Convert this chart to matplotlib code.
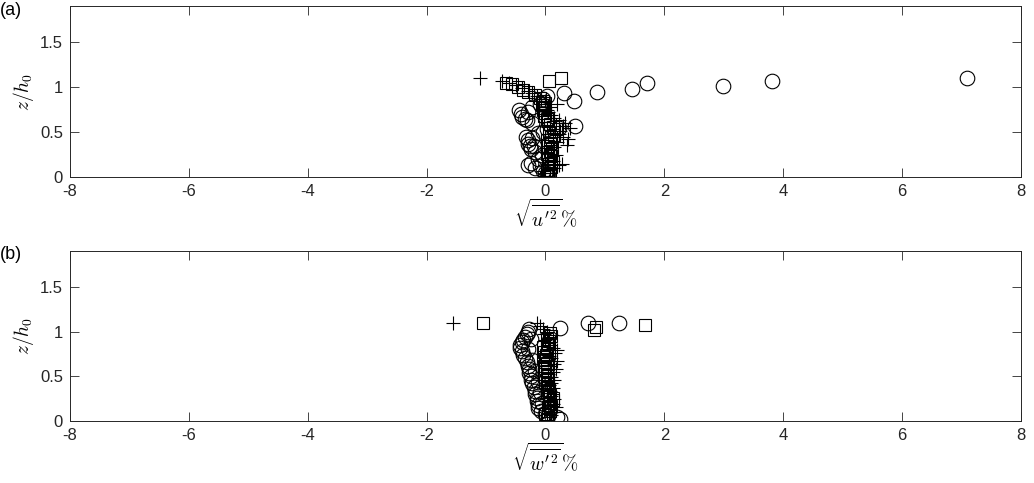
import numpy as np
import matplotlib
matplotlib.use("Agg")
import matplotlib.pyplot as plt

plt.rcParams['font.family'] = ['Liberation Sans', 'DejaVu Sans']
plt.rcParams['mathtext.fontset'] = 'cm'

# (a) streamwise fluctuation profiles: circles, squares, plus signs
circ_u_z = [0.02, 0.03, 0.05, 0.07, 0.10, 0.13, 0.16, 0.20, 0.24, 0.28, 0.31, 0.34,
            0.37, 0.41, 0.45, 0.49, 0.53, 0.55, 0.57, 0.60, 0.63, 0.67, 0.70, 0.74,
            0.78, 0.81, 0.84, 0.87, 0.90, 0.93, 0.95, 0.98, 1.01, 1.04, 1.07, 1.10,
            0.12, 0.35, 0.43, 0.65, 0.72, 0.50]
circ_u_x = [0.05, 0.02, 0.00, -0.05, -0.18, -0.29, -0.24, -0.12, -0.06, -0.18, -0.24, -0.26,
            -0.30, -0.29, -0.33, -0.12, 0.02, 0.22, 0.50, -0.22, -0.31, -0.40, -0.42, -0.45,
            -0.22, -0.10, 0.48, -0.05, 0.02, 0.31, 0.87, 1.46, 2.99, 1.71, 3.81, 7.10,
            -0.10, -0.20, -0.22, -0.35, -0.30, -0.05]

sq_u_z = [0.02, 0.05, 0.08, 0.11, 0.14, 0.17, 0.20, 0.23, 0.26, 0.29, 0.32, 0.35,
          0.38, 0.41, 0.44, 0.47, 0.50, 0.53, 0.56, 0.59, 0.62, 0.65, 0.68, 0.71,
          0.74, 0.77, 0.80, 0.82, 0.85, 0.88, 0.91, 0.94, 0.97, 1.00, 1.03, 1.05,
          1.07, 1.10]
sq_u_x = [0.05, 0.08, 0.03, 0.10, 0.06, 0.12, 0.04, 0.09, 0.02, 0.07, 0.11, 0.05,
          0.08, 0.03, 0.10, 0.14, 0.06, 0.18, 0.13, 0.08, 0.04, 0.02, -0.02, 0.00,
          -0.04, -0.02, -0.06, 0.00, -0.05, -0.10, -0.18, -0.29, -0.38, -0.46, -0.56, -0.66,
          0.06, 0.26]

plus_u_z = [0.01, 0.04, 0.07, 0.10, 0.13, 0.15, 0.18, 0.21, 0.24, 0.27, 0.30, 0.33,
            0.36, 0.39, 0.42, 0.45, 0.48, 0.51, 0.54, 0.57, 0.60, 0.63, 0.66, 0.69,
            0.72, 0.75, 0.78, 0.81, 0.84, 0.87, 0.90, 0.93, 0.96, 0.99, 1.02, 1.05,
            1.07, 1.10]
plus_u_x = [0.00, 0.08, -0.05, 0.15, 0.22, 0.28, 0.12, 0.05, 0.18, 0.02, 0.10, 0.15,
            0.36, 0.20, 0.38, 0.30, 0.22, 0.25, 0.42, 0.30, 0.33, 0.22, 0.15, 0.10,
            0.05, 0.02, 0.08, 0.19, 0.00, -0.08, -0.15, -0.22, -0.30, -0.40, -0.50, -0.62,
            -0.74, -1.10]

# (b) vertical fluctuation profiles
circ_w_z = [0.02, 0.04, 0.06, 0.08, 0.11, 0.14, 0.18, 0.22, 0.26, 0.30, 0.34, 0.38,
            0.42, 0.46, 0.50, 0.54, 0.58, 0.62, 0.66, 0.70, 0.74, 0.78, 0.82, 0.85,
            0.88, 0.91, 0.94, 0.97, 1.00, 1.03, 1.04, 1.09, 1.09,
            0.20, 0.32, 0.44, 0.56, 0.68, 0.80, 0.92]
circ_w_x = [0.24, 0.20, 0.05, 0.00, -0.08, -0.12, -0.13, -0.14, -0.15, -0.17, -0.18, -0.20,
            -0.22, -0.24, -0.25, -0.27, -0.28, -0.29, -0.31, -0.34, -0.37, -0.40, -0.43, -0.43,
            -0.40, -0.37, -0.34, -0.31, -0.29, -0.27, 0.24, 0.72, 1.24,
            -0.06, -0.10, -0.13, -0.17, -0.22, -0.30, -0.24]

sq_w_z = [0.02, 0.05, 0.08, 0.11, 0.14, 0.17, 0.20, 0.23, 0.26, 0.29, 0.32, 0.35,
          0.38, 0.41, 0.44, 0.47, 0.50, 0.53, 0.56, 0.59, 0.62, 0.65, 0.68, 0.71,
          0.74, 0.77, 0.80, 0.83, 0.86, 0.89, 0.92, 0.95, 0.98, 1.02, 1.05, 1.07,
          1.09]
sq_w_x = [0.02, 0.05, 0.00, 0.08, 0.04, 0.10, 0.06, 0.12, 0.13, 0.08, 0.03, 0.06,
          0.02, 0.05, 0.00, 0.04, 0.02, -0.02, 0.03, 0.00, -0.03, 0.02, 0.00, -0.04,
          0.01, -0.02, 0.03, -0.05, 0.04, 0.06, 0.02, 0.10, 0.08, 0.82, 0.85, 1.68,
          -1.05]

plus_w_z = [0.01, 0.04, 0.07, 0.10, 0.13, 0.16, 0.19, 0.22, 0.25, 0.28, 0.31, 0.34,
            0.37, 0.40, 0.43, 0.46, 0.49, 0.52, 0.55, 0.58, 0.61, 0.64, 0.67, 0.70,
            0.73, 0.76, 0.79, 0.82, 0.85, 0.88, 0.91, 0.94, 0.97, 1.00, 1.03, 1.06,
            1.09, 1.10]
plus_w_x = [0.02, 0.06, 0.10, 0.14, 0.08, 0.18, 0.12, 0.05, 0.15, 0.10, 0.03, 0.08,
            0.12, 0.06, 0.10, 0.15, 0.09, 0.04, 0.12, 0.18, 0.08, 0.14, 0.19, 0.10,
            0.06, 0.16, 0.20, 0.12, 0.08, 0.04, 0.00, 0.06, -0.02, 0.02, -0.05, -0.10,
            -1.56, -0.15]

x_ticks = np.arange(-8, 9, 2)
y_ticks = [0, 0.5, 1, 1.5]
axis_col = '#262626'

fig = plt.figure(figsize=(10.34, 4.83), dpi=100)
ax_a = fig.add_axes([0.0677, 0.6335, 0.9197, 0.3541])
ax_b = fig.add_axes([0.0677, 0.1284, 0.9197, 0.3519])


def profile_panel(ax, circ, sq, plus, xlabel, tag, tag_y):
    ax.plot(circ[0], circ[1], 'o', mfc='none', mec='k', ms=10.5, mew=0.8)
    ax.plot(sq[0], sq[1], 's', mfc='none', mec='k', ms=8, mew=0.8)
    ax.plot(plus[0], plus[1], '+', color='k', ms=9.5, mew=0.8)
    ax.set_xlim(-8, 8)
    ax.set_ylim(0, 1.9)
    ax.set_xticks(x_ticks)
    ax.set_xticklabels([str(v) for v in x_ticks])
    ax.set_yticks(y_ticks)
    ax.set_yticklabels(['0', '0.5', '1', '1.5'])
    ax.tick_params(direction='in', length=6.8, width=0.6, top=True, right=True,
                   labelsize=12, colors=axis_col)
    ax.tick_params(axis='x', pad=5)
    ax.tick_params(axis='y', pad=5)
    for s in ax.spines.values():
        s.set_color(axis_col)
        s.set_linewidth(0.7)
    ax.set_xlabel(xlabel, fontsize=14, labelpad=-1)
    ax.set_ylabel(r'$z/h_0$', fontsize=14, labelpad=3)
    fig.text(0.0, tag_y, tag, fontsize=13, va='top', ha='left')


profile_panel(ax_a, (circ_u_x, circ_u_z), (sq_u_x, sq_u_z), (plus_u_x, plus_u_z),
              r"$\sqrt{\overline{u'^2}}\%$", '(a)', 0.995)
profile_panel(ax_b, (circ_w_x, circ_w_z), (sq_w_x, sq_w_z), (plus_w_x, plus_w_z),
              r"$\sqrt{\overline{w'^2}}\%$", '(b)', 0.49)

fig.savefig('out.png', dpi=100)
